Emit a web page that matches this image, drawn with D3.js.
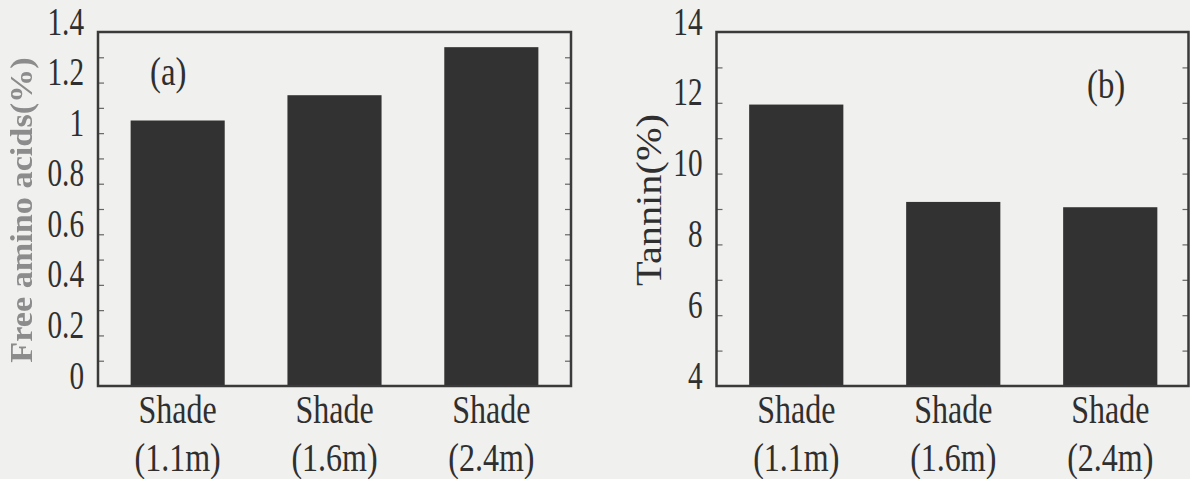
<!DOCTYPE html>
<html>
<head>
<meta charset="utf-8">
<script src="https://cdn.jsdelivr.net/npm/d3@7"></script>
<style>
  html, body { margin: 0; padding: 0; background: #f0f0ee; }
  svg { display: block; }
  text { font-family: "Liberation Serif", "DejaVu Serif", serif; }
</style>
</head>
<body>
<svg id="chart" width="1190" height="479"></svg>
<script>
// Shade-height categories shared by both panels
const categories = ["Shade (1.1m)", "Shade (1.6m)", "Shade (2.4m)"];
const categoryLines = [["Shade", "(1.1m)"], ["Shade", "(1.6m)"], ["Shade", "(2.4m)"]];

// (a) free amino acids, %
const aminoValues = [1.05, 1.15, 1.34];
const aminoTicks = [0, 0.2, 0.4, 0.6, 0.8, 1, 1.2, 1.4];
const aminoTickLabels = ["0", "0.2", "0.4", "0.6", "0.8", "1", "1.2", "1.4"];
const aminoMinor = [0.1, 0.2, 0.3, 0.4, 0.5, 0.6, 0.7, 0.8, 0.9, 1.0, 1.1, 1.2, 1.3];

// (b) tannin, %
const tanninValues = [11.95, 9.2, 9.05];
const tanninTicks = [4, 6, 8, 10, 12, 14];
const tanninTickLabels = ["4", "6", "8", "10", "12", "14"];
const tanninMinor = [5, 6, 7, 8, 9, 10, 11, 12, 13];

const svg = d3.select("#chart");
const ink = "#2f2f2f";

// slightly soft edges for the faded axis title
const defs = svg.append("defs");
defs.append("filter").attr("id", "soft")
  .append("feGaussianBlur").attr("stdDeviation", 0.6);

function panel(opts) {
  const { left, right, frameRight, top, bottom, domain, values, ticks, tickLabels, minor,
          title, titleX, titleY, titleStyle, tag, tagX, tagY } = opts;

  const x = d3.scaleBand()
    .domain(categories)
    .range([left, right])
    .paddingInner(0.4)
    .paddingOuter(0.208);

  const y = d3.scaleLinear().domain(domain).range([bottom, top]);

  const g = svg.append("g");

  // bars
  g.selectAll("rect.bar")
    .data(values)
    .join("rect")
    .attr("class", "bar")
    .attr("x", (d, i) => x(categories[i]))
    .attr("width", x.bandwidth())
    .attr("y", d => y(d))
    .attr("height", d => y(domain[0]) - y(d))
    .attr("fill", "#323232");

  // inward tick marks on left and right edges
  const leftTicks = g.append("g")
    .attr("transform", `translate(${left},0)`)
    .call(d3.axisLeft(y).tickValues(minor).tickSize(-6).tickFormat(""));
  const rightTicks = g.append("g")
    .attr("transform", `translate(${frameRight},0)`)
    .call(d3.axisRight(y).tickValues(minor).tickSize(-6).tickFormat(""));
  [leftTicks, rightTicks].forEach(a => {
    a.select(".domain").remove();
    a.selectAll("line").attr("stroke", "#666").attr("stroke-width", 1.2);
  });

  // tick labels, tall condensed serif digits
  const labelAxis = g.append("g")
    .attr("transform", `translate(${left},0)`)
    .call(d3.axisLeft(y).tickValues(ticks).tickSize(0)
      .tickFormat((d, i) => tickLabels[i]));
  labelAxis.select(".domain").remove();
  labelAxis.selectAll("text")
    .attr("font-family", "Liberation Serif")
    .attr("font-size", 40)
    .attr("fill", ink)
    .attr("text-anchor", "end")
    .attr("x", 0)
    .attr("dy", "2px")
    .attr("transform", "translate(-14,0) scale(0.73,1)");

  // frame
  g.append("rect")
    .attr("x", left).attr("y", top)
    .attr("width", frameRight - left).attr("height", bottom - top)
    .attr("fill", "none")
    .attr("stroke", "#3a3a3a")
    .attr("stroke-width", 2.5);

  // category labels (two lines each)
  const cat = g.selectAll("text.cat")
    .data(categoryLines)
    .join("text")
    .attr("class", "cat")
    .attr("text-anchor", "middle")
    .attr("font-size", 40)
    .attr("fill", ink)
    .attr("transform", (d, i) =>
      `translate(${x(categories[i]) + x.bandwidth() / 2},0) scale(0.8,1)`);
  cat.append("tspan").attr("x", 0).attr("y", 423).text(d => d[0]);
  cat.append("tspan").attr("x", 0).attr("y", 471).text(d => d[1]);

  // panel tag
  g.append("text")
    .attr("transform", `translate(${tagX},${tagY}) scale(0.82,1)`)
    .attr("font-size", 40)
    .attr("fill", ink)
    .text(tag);

  // y title
  const t = g.append("text")
    .attr("text-anchor", "middle")
    .text(title);
  titleStyle(t, titleX, titleY);
}

panel({
  left: 98, right: 571, frameRight: 571, top: 32, bottom: 386,
  domain: [0, 1.4], values: aminoValues,
  ticks: aminoTicks, tickLabels: aminoTickLabels, minor: aminoMinor,
  title: "Free amino acids(%)", titleX: 32, titleY: 210,
  titleStyle: (t, tx, ty) => t
    .attr("transform", `translate(${tx},${ty}) rotate(-90) scale(1.07,1)`)
    .attr("font-size", 32).attr("font-weight", "bold")
    .attr("fill", "#8c8c8c")
    .attr("filter", "url(#soft)"),
  tag: "(a)", tagX: 150, tagY: 85
});

panel({
  left: 716.5, right: 1190, frameRight: 1188.5, top: 32, bottom: 386,
  domain: [4, 14], values: tanninValues,
  ticks: tanninTicks, tickLabels: tanninTickLabels, minor: tanninMinor,
  title: "Tannin(%)", titleX: 661, titleY: 200,
  titleStyle: (t, tx, ty) => t
    .attr("transform", `translate(${tx},${ty}) rotate(-90) scale(1.12,1)`)
    .attr("font-size", 36)
    .attr("fill", ink),
  tag: "(b)", tagX: 1087, tagY: 98
});
</script>
</body>
</html>
